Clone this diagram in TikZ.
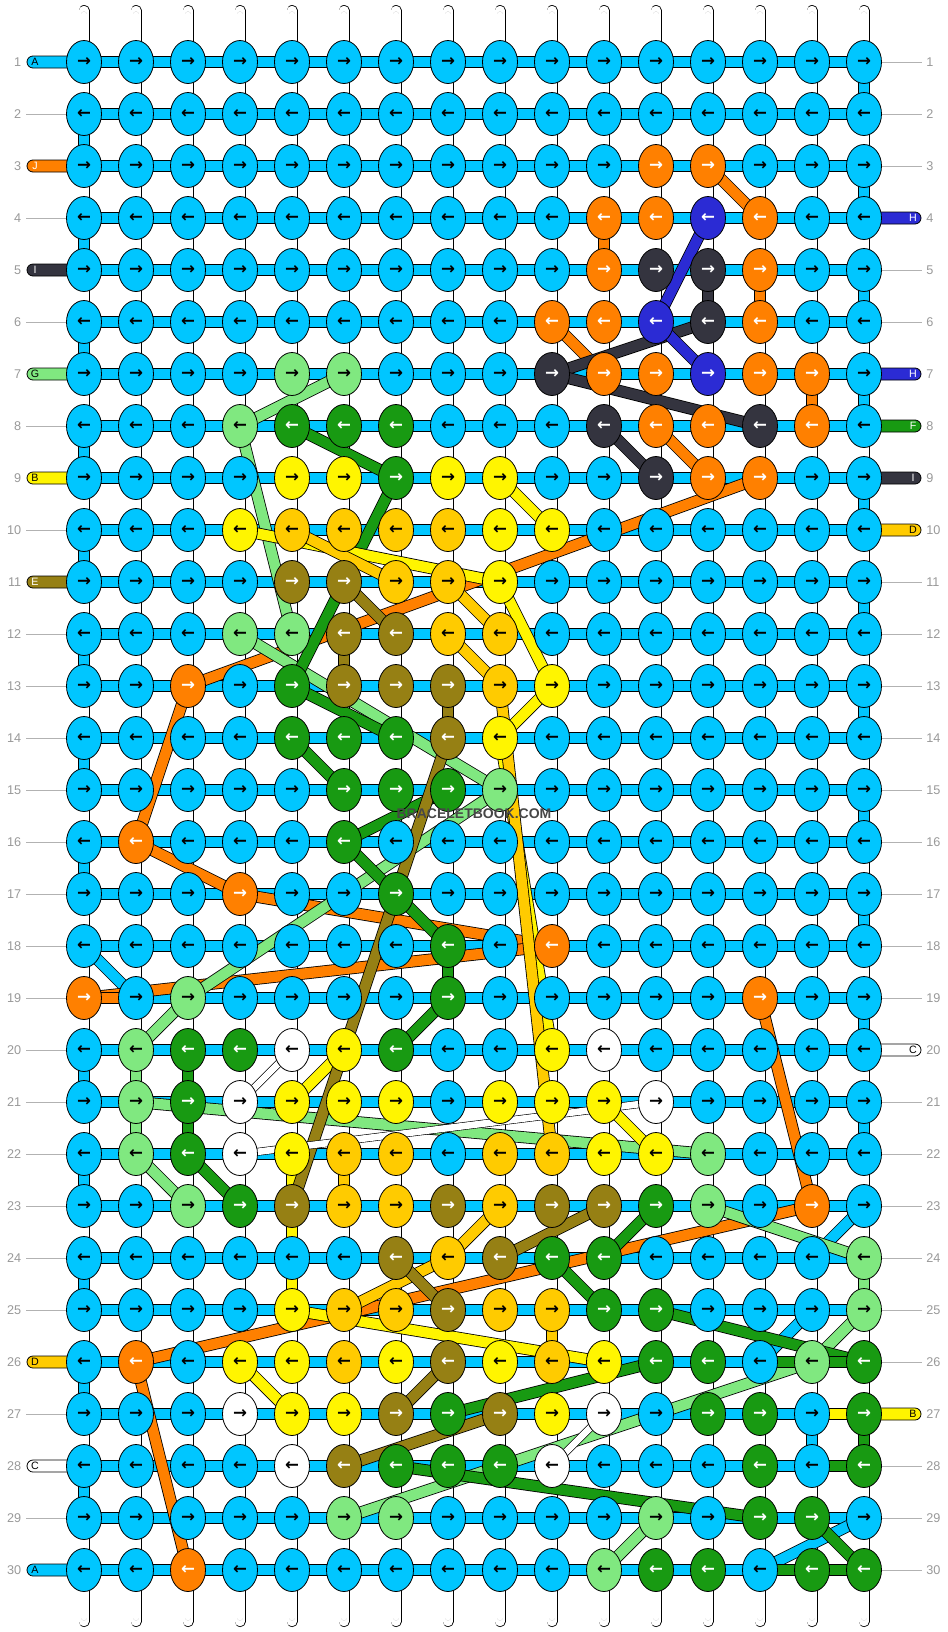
\documentclass[tikz,border=0pt]{standalone}
\usepackage{fontspec}
\setmainfont{Liberation Sans}
\newfontfamily\arrowfont{DejaVu Sans}
\usetikzlibrary{shapes.geometric}

% thread colours
\definecolor{kc}{HTML}{00C6FF}
\definecolor{ko}{HTML}{FF8000}
\definecolor{kk}{HTML}{34343F}
\definecolor{ku}{HTML}{2B2BD4}
\definecolor{kl}{HTML}{80E880}
\definecolor{kg}{HTML}{189A12}
\definecolor{ky}{HTML}{FFF500}
\definecolor{kd}{HTML}{FFCB00}
\definecolor{ke}{HTML}{968014}
\definecolor{kw}{HTML}{FFFFFF}
\colorlet{kct}{black}
\colorlet{kot}{white}
\colorlet{kkt}{white}
\colorlet{kut}{white}
\colorlet{klt}{black}
\colorlet{kgt}{white}
\colorlet{kyt}{black}
\colorlet{kdt}{black}
\colorlet{ket}{white}
\colorlet{kwt}{black}

\pgfdeclarelayer{background}
\pgfsetlayers{background,main}

\tikzset{
  knot/.style={ellipse, draw=black, line width=0.6pt, minimum width=26.25pt,
    minimum height=32.25pt, inner sep=0pt,
    font=\arrowfont\bfseries\fontsize{12.5}{12.5}\selectfont},
  bar/.style={draw=black, line width=0.6pt, double=#1, double distance=7.8pt},
  strand/.style={bar=#1},
  thinstrand/.style={draw=black, line width=0.45pt, double=#1, double distance=5pt},
  basestring/.style={draw=black, line width=8.25pt, line cap=round,
    postaction={draw=white, line width=7.1pt, line cap=round},
    postaction={draw=black!20, double=white, double distance=4.1pt, line width=0.3pt,
      shorten <=3pt, shorten >=3pt}},
  tab/.style={draw=black, line width=0.6pt, rounded corners=4.5pt},
  tabtext/.style={inner sep=0pt, font=\fontsize{8}{8}\selectfont},
  guide/.style={draw=black!30, line width=0.6pt},
  rownum/.style={inner sep=0pt, text=black!40, font=\fontsize{9.5}{10}\selectfont},
  wmark/.style={inner sep=0pt, text=black!72, font=\bfseries\fontsize{10.5}{11}\selectfont}
}

\begin{document}
\begin{tikzpicture}[x=0.75pt, y=-0.75pt]
  \useasboundingbox (0,0) rectangle (948,1632);

  % Draw the knots, row by row
  \foreach \row [count=\rw] in {%
    {c,c,c,c,c,c,c,c,c,c,c,c,c,c,c,c},
    {c,c,c,c,c,c,c,c,c,c,c,c,c,c,c,c},
    {c,c,c,c,c,c,c,c,c,c,c,o,o,c,c,c},
    {c,c,c,c,c,c,c,c,c,c,o,o,u,o,c,c},
    {c,c,c,c,c,c,c,c,c,c,o,k,k,o,c,c},
    {c,c,c,c,c,c,c,c,c,o,o,u,k,o,c,c},
    {c,c,c,c,l,l,c,c,c,k,o,o,u,o,o,c},
    {c,c,c,l,g,g,g,c,c,c,k,o,o,k,o,c},
    {c,c,c,c,y,y,g,y,y,c,c,k,o,o,c,c},
    {c,c,c,y,d,d,d,d,y,y,c,c,c,c,c,c},
    {c,c,c,c,e,e,d,d,y,c,c,c,c,c,c,c},
    {c,c,c,l,l,e,e,d,d,c,c,c,c,c,c,c},
    {c,c,o,c,g,e,e,e,d,y,c,c,c,c,c,c},
    {c,c,c,c,g,g,g,e,y,c,c,c,c,c,c,c},
    {c,c,c,c,c,g,g,g,l,c,c,c,c,c,c,c},
    {c,o,c,c,c,g,c,c,c,c,c,c,c,c,c,c},
    {c,c,c,o,c,c,g,c,c,c,c,c,c,c,c,c},
    {c,c,c,c,c,c,c,g,c,o,c,c,c,c,c,c},
    {o,c,l,c,c,c,c,g,c,c,c,c,c,o,c,c},
    {c,l,g,g,w,y,g,c,c,y,w,c,c,c,c,c},
    {c,l,g,w,y,y,y,c,y,y,y,w,c,c,c,c},
    {c,l,g,w,y,d,d,c,d,d,y,y,l,c,c,c},
    {c,c,l,g,e,d,d,e,d,e,e,g,l,c,o,c},
    {c,c,c,c,c,c,e,d,e,g,g,c,c,c,c,l},
    {c,c,c,c,y,d,d,e,d,d,g,g,c,c,c,l},
    {c,o,c,y,y,d,y,e,y,d,y,g,g,c,l,g},
    {c,c,c,w,y,y,e,g,e,y,w,c,g,g,c,g},
    {c,c,c,c,w,e,g,g,g,w,c,c,c,g,c,g},
    {c,c,c,c,c,l,l,c,c,c,c,l,c,g,g,c},
    {c,c,o,c,c,c,c,c,c,c,l,g,g,c,g,g}%
  }{
    \foreach \code [count=\col] in \row {
      \node[knot, fill=k\code, text=k\code t] (k-\rw-\col)
        at ({84+52*(\col-1)}, {62+52*(\rw-1)}) {\ifodd\rw →\else ←\fi};
    }
  }

  % Ends of the base strings
  \foreach \col in {1,...,16} {
    \coordinate (top-\col) at ({84+52*(\col-1)}, 10.5);
    \coordinate (bot-\col) at ({84+52*(\col-1)}, 1621.5);
  }

  % Row numbers and string labels
  \foreach \rw in {1,...,30} {
    \node[rownum, anchor=east] (nl-\rw) at (21.5, {62+52*(\rw-1)}) {\rw};
    \node[rownum, anchor=west] (nr-\rw) at (926, {62+52*(\rw-1)}) {\rw};
  }
  \foreach \rw/\clr/\txt in {1/kc/A, 3/ko/J, 5/kk/I, 7/kl/G, 9/ky/B, 11/ke/E, 26/kd/D, 28/kw/C, 30/kc/A}
    \node[tabtext, text=\clr t] (lt-\rw) at (35, {62+52*(\rw-1)}) {\txt};
  \foreach \rw/\clr/\txt in {4/ku/H, 7/ku/H, 8/kg/F, 9/kk/I, 10/kd/D, 20/kw/C, 27/ky/B}
    \node[tabtext, text=\clr t] (rt-\rw) at (913, {62+52*(\rw-1)}) {\txt};

  \node[wmark] (wm) at (474, 814) {BRACELETBOOK.COM};

  \begin{pgfonlayer}{background}
    \fill[white] (0,0) rectangle (948,1632);
    % Draw the base strings
    \foreach \col in {1,...,16}
      \draw[basestring] (top-\col) -- (bot-\col);
    % Guide lines beside unlabelled rows
    \foreach \rw in {2,4,6,8,10,12,13,14,15,16,17,18,19,20,21,22,23,24,25,27,29}
      \draw[guide] (26, {62+52*(\rw-1)}) -- (k-\rw-1.center);
    \foreach \rw in {1,2,3,5,6,11,12,13,14,15,16,17,18,19,21,22,23,24,25,26,28,29,30}
      \draw[guide] (k-\rw-16.center) -- (922, {62+52*(\rw-1)});
    % Draw the row threads
    \foreach \rw in {1,...,30}
      \draw[bar=kc] (k-\rw-1.center) -- (k-\rw-16.center);
    \foreach \rw [evaluate=\rw as \nx using int(\rw+1)] in {2,4,6,8,10,12,14,16,20,22,24,26,28}
      \draw[bar=kc] (k-\rw-1.center) -- (k-\nx-1.center);
    \foreach \rw [evaluate=\rw as \nx using int(\rw+1)] in {1,3,5,7,9,11,13,15,17,19,21}
      \draw[bar=kc] (k-\rw-16.center) -- (k-\nx-16.center);
    \foreach \a/\b in {18-1/19-2, 23-16/24-15, 25-15/26-14, 27-15/28-15, 29-16/30-14}
      \draw[bar=kc] (k-\a.center) -- (k-\b.center);
    % Tabs where strings come in
    \foreach \rw/\clr in {1/kc, 3/ko, 5/kk, 7/kl, 9/ky, 11/ke, 26/kd, 28/kw, 30/kc}
      \draw[tab, fill=\clr] (27, {56+52*(\rw-1)}) rectangle (84, {68+52*(\rw-1)});
    \foreach \rw/\clr in {4/ku, 7/ku, 8/kg, 9/kk, 10/kd, 20/kw, 27/ky}
      \draw[tab, fill=\clr] (864, {56+52*(\rw-1)}) rectangle (921, {68+52*(\rw-1)});

    % Draw the carried strings
    \foreach \a/\b in {3-13/4-14, 4-11/5-11, 5-14/6-14, 6-10/7-11, 7-15/8-15, 8-12/9-13,
        9-14/13-3, 13-3/16-2, 16-2/17-4, 17-4/18-10, 18-10/19-1, 19-1/19-2,
        19-14/23-15, 23-15/26-2, 26-2/30-3}
      \draw[strand=ko] (k-\a.center) -- (k-\b.center);
    \foreach \a/\b in {5-13/6-13, 6-13/7-10, 7-10/8-14, 8-11/9-12}
      \draw[strand=kk] (k-\a.center) -- (k-\b.center);
    \foreach \a/\b in {4-13/6-12, 6-12/7-13}
      \draw[strand=ku] (k-\a.center) -- (k-\b.center);
    \foreach \a/\b in {7-6/8-4, 8-4/12-5, 12-4/15-9, 15-9/19-3, 19-3/20-2, 20-2/22-2,
        21-2/22-13, 22-2/23-3, 23-13/24-16, 24-16/25-16, 25-16/26-15, 26-15/29-6, 29-12/30-11}
      \draw[strand=kl] (k-\a.center) -- (k-\b.center);
    \foreach \a/\b in {8-5/9-7, 9-7/13-5, 13-5/14-7, 14-5/15-6, 15-8/16-6, 16-6/17-7,
        17-7/18-8, 18-8/19-8, 19-8/20-7, 20-3/22-3, 22-3/23-4, 23-12/24-11, 24-10/25-11,
        25-12/26-16, 26-14/26-16, 26-12/27-8, 27-16/28-16, 28-15/28-16, 28-7/29-14,
        29-15/30-16, 30-14/30-16}
      \draw[strand=kg] (k-\a.center) -- (k-\b.center);
    \foreach \a/\b in {9-9/10-10, 10-4/11-9, 11-9/13-10, 13-10/14-9, 14-9/20-10, 20-6/21-5,
        21-11/22-12, 22-5/25-5, 25-5/26-11, 26-4/27-5, 27-15/27-16}
      \draw[strand=ky] (k-\a.center) -- (k-\b.center);
    \foreach \a/\b in {10-5/11-7, 11-8/12-9, 12-8/13-9, 13-9/22-10, 22-6/23-6, 23-9/24-8,
        24-8/25-6, 25-10/26-10}
      \draw[strand=kd] (k-\a.center) -- (k-\b.center);
    \foreach \a/\b in {11-6/12-7, 12-6/13-6, 13-8/14-8, 14-8/23-5, 23-11/24-9, 24-7/25-8,
        26-8/27-7, 27-9/28-6}
      \draw[strand=ke] (k-\a.center) -- (k-\b.center);
    \foreach \a/\b in {20-5/21-4, 21-12/22-4, 27-11/28-10}
      \draw[thinstrand=kw] (k-\a.center) -- (k-\b.center);
  \end{pgfonlayer}
\end{tikzpicture}
\end{document}
